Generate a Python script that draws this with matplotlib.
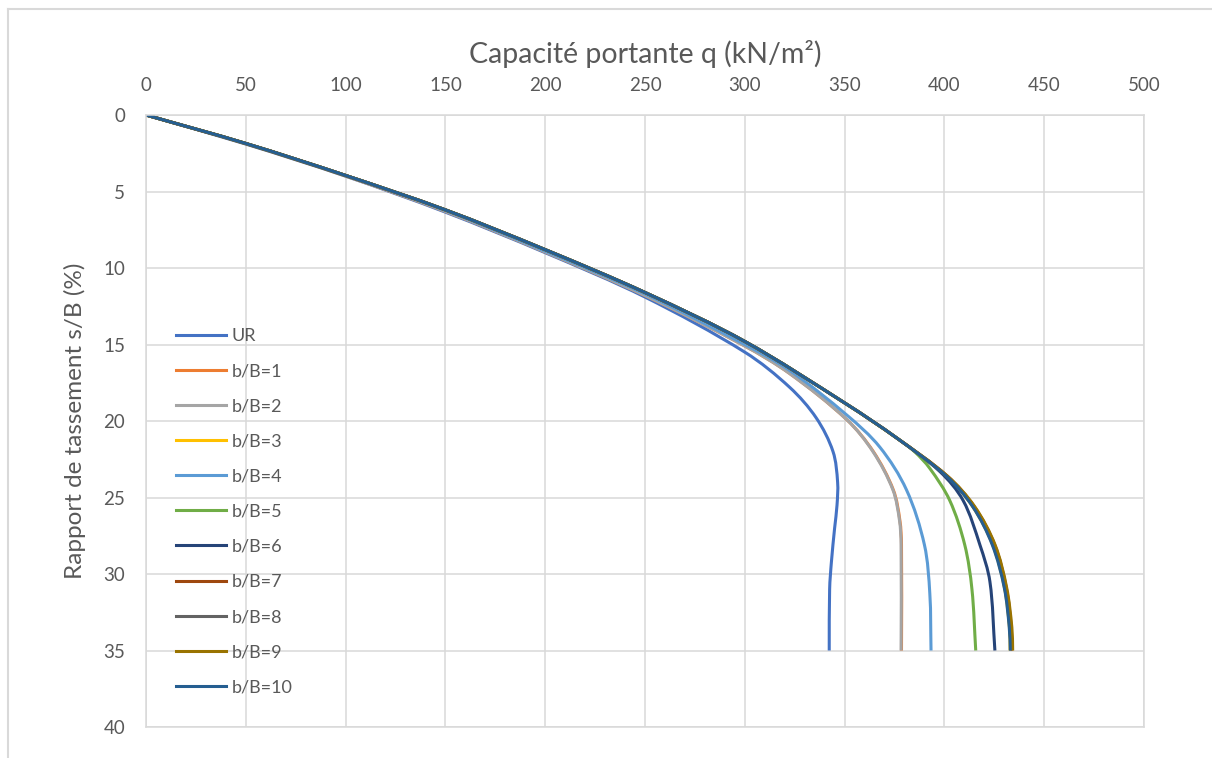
import numpy as np
import matplotlib.pyplot as plt
from matplotlib.lines import Line2D
from matplotlib.path import Path
from matplotlib.patches import PathPatch

# Données (q en kN/m², s/B en %)
q_ur = [0, 50, 100, 150, 200, 250, 300, 322.5, 335.8, 344.2, 346.5, 346.2, 345, 343.4, 342.5, 342.3]
s_ur = [0, 1.9, 4.0, 6.35, 9.0, 11.9, 15.5, 17.8, 19.8, 22, 24, 25.5, 27, 29.2, 31, 35]

q_b1 = [0, 50, 100, 150, 200, 250, 300, 322.5, 351, 364.4, 374.4, 377.7, 378.5, 378.5]
s_b1 = [0, 1.88, 3.98, 6.3, 8.95, 11.8, 15.1, 16.9, 19.9, 22, 24.5, 26.5, 28.1, 35]

q_b2 = [0, 50, 100, 150, 200, 250, 300, 322.5, 351, 364.2, 374.2, 377.5, 378.3, 378.3]
s_b2 = [0, 1.88, 3.98, 6.3, 8.95, 11.8, 15.1, 16.9, 19.9, 22, 24.5, 26.5, 28.1, 35]

q_b3 = [0, 50, 100, 150, 200, 250, 300, 351, 376, 401, 414.2, 424.2, 430.1, 432.6, 432.9]
s_b3 = [0, 1.86, 3.95, 6.2, 8.8, 11.6, 14.8, 18.9, 21.1, 23.6, 25.6, 28.1, 30.9, 33.5, 35]

q_b4 = [0, 50, 100, 150, 200, 250, 300, 322.5, 351, 367.6, 381, 390, 392.7, 393.3]
s_b4 = [0, 1.87, 3.96, 6.25, 8.9, 11.7, 15.0, 16.7, 19.6, 21.7, 24.5, 28.1, 31.3, 35]

q_b5 = [0, 50, 100, 150, 200, 250, 300, 351, 376, 385, 392.7, 402.7, 410.2, 413.8, 415.7]
s_b5 = [0, 1.86, 3.95, 6.2, 8.8, 11.6, 14.8, 18.9, 21.1, 22.0, 23.1, 25.2, 28.1, 31, 35]

q_b6 = [0, 50, 100, 150, 200, 250, 300, 351, 376, 397.7, 409.4, 417.8, 422.8, 425.3]
s_b6 = [0, 1.86, 3.95, 6.2, 8.8, 11.6, 14.8, 18.9, 21.1, 23.3, 25.2, 28.1, 30.5, 35]

q_b7 = [0, 50, 100, 150, 200, 250, 300, 351, 376, 401.5, 415, 425.2, 431, 433.5, 433.8]
s_b7 = [0, 1.86, 3.95, 6.2, 8.8, 11.6, 14.8, 18.9, 21.1, 23.6, 25.6, 28.1, 30.9, 33.5, 35]

q_b8 = [0, 50, 100, 150, 200, 250, 300, 351, 376, 401, 414.4, 424.4, 430.3, 432.8, 433.2]
s_b8 = [0, 1.86, 3.95, 6.2, 8.8, 11.6, 14.8, 18.9, 21.1, 23.6, 25.6, 28.1, 30.9, 33.5, 35]

q_b9 = [0, 50, 100, 150, 200, 250, 300, 351, 376, 401.5, 415.2, 425.4, 431.2, 433.8, 434.2]
s_b9 = [0, 1.86, 3.95, 6.2, 8.8, 11.6, 14.8, 18.9, 21.1, 23.6, 25.6, 28.1, 30.9, 33.5, 35]

q_b10 = [0, 50, 100, 150, 200, 250, 300, 351, 376, 401, 414.2, 424, 430, 432.5, 433]
s_b10 = [0, 1.86, 3.95, 6.2, 8.8, 11.6, 14.8, 18.9, 21.1, 23.6, 25.6, 28.1, 30.9, 33.5, 35]

labels = ['UR', 'b/B=1', 'b/B=2', 'b/B=3', 'b/B=4', 'b/B=5',
          'b/B=6', 'b/B=7', 'b/B=8', 'b/B=9', 'b/B=10']
series_q = [q_ur, q_b1, q_b2, q_b3, q_b4, q_b5, q_b6, q_b7, q_b8, q_b9, q_b10]
series_s = [s_ur, s_b1, s_b2, s_b3, s_b4, s_b5, s_b6, s_b7, s_b8, s_b9, s_b10]
colors = ['#4472C4', '#ED7D31', '#A5A5A5', '#FFC000', '#5B9BD5', '#70AD47',
          '#264478', '#9E480E', '#636363', '#997300', '#255E91']


def smooth_path(ax, xs, ys):
    # ligne lissée (Bézier passant par chaque point), tangentes pondérées
    # par la longueur des segments à l'écran
    pts = np.column_stack([xs, ys]).astype(float)
    pix = ax.transData.transform(pts)
    d = np.hypot(*np.diff(pix, axis=0).T)
    t = np.concatenate([[0], np.cumsum(d)])
    n = len(pts)
    tang = np.zeros_like(pts)
    for i in range(n):
        a, b = max(i - 1, 0), min(i + 1, n - 1)
        tang[i] = (pts[b] - pts[a]) / (t[b] - t[a])
    verts = [pts[0]]
    codes = [Path.MOVETO]
    for i in range(n - 1):
        h = t[i + 1] - t[i]
        verts += [pts[i] + tang[i] * h / 3, pts[i + 1] - tang[i + 1] * h / 3, pts[i + 1]]
        codes += [Path.CURVE4] * 3
    return Path(verts, codes)


plt.rcParams['font.family'] = ['Lato', 'DejaVu Sans']
txt = '#595959'
grid_c = '#d9d9d9'

fig = plt.figure(figsize=(12.12, 7.58), dpi=100)
ax = fig.add_axes([146/1212, 1 - 727/758, (1144-146)/1212, (727-115)/758])
ax.set_xlim(0, 500)
ax.set_ylim(40, 0)

# Courbes
handles = []
for q, s, c, lab in zip(series_q, series_s, colors, labels):
    ax.add_patch(PathPatch(smooth_path(ax, q, s), facecolor='none', edgecolor=c,
                           linewidth=2.2, capstyle='butt'))
    handles.append(Line2D([], [], color=c, linewidth=2.2, label=lab))

# Axes
ax.set_xticks(range(0, 501, 50))
ax.set_yticks(range(0, 41, 5))
ax.xaxis.tick_top()
ax.xaxis.set_label_position('top')
ax.tick_params(length=0, labelsize=13.5, labelcolor=txt)
ax.tick_params(axis='x', pad=15)
ax.tick_params(axis='y', pad=15)
ax.grid(True, color=grid_c, linewidth=1.1)
ax.set_axisbelow(True)
for sp in ax.spines.values():
    sp.set_color(grid_c)
    sp.set_linewidth(1.1)

ax.set_xlabel('Capacité portante q (kN/m²)', fontsize=20.5, color=txt, labelpad=10)
ax.set_ylabel('Rapport de tassement s/B (%)', fontsize=17.5, color=txt, labelpad=12)

# Légende
ax.legend(handles=handles, loc='upper left', bbox_to_anchor=(0.03, 0.652), frameon=False,
          fontsize=13, labelcolor=txt, handlelength=2.8, handletextpad=0.3,
          labelspacing=1.06, borderpad=0, borderaxespad=0)

# Cadre du graphique
fig.add_artist(Line2D([8/1212, 8/1212], [0, 1 - 9/758], color=grid_c, linewidth=1.5))
fig.add_artist(Line2D([8/1212, 1], [1 - 9/758, 1 - 9/758], color=grid_c, linewidth=1.5))

fig.savefig('out.png', dpi=100)
